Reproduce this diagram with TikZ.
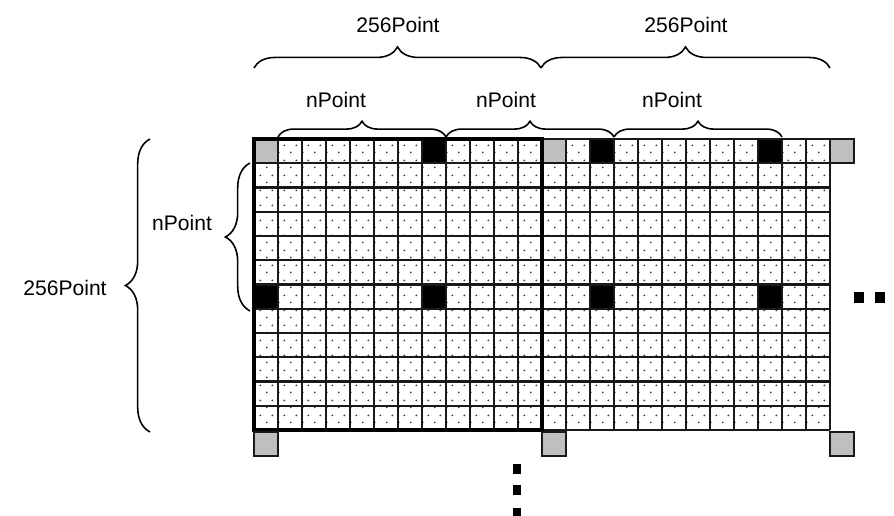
\documentclass[tikz,border=0pt]{standalone}
\usepackage{fontspec}
\setmainfont{Liberation Sans}
\usetikzlibrary{decorations.pathreplacing, patterns.meta, positioning}

\tikzdeclarepattern{
  name=celldots,
  type=uncolored,
  bottom left={(0pt,0pt)},
  top right={(6.83pt,8.54pt)},
  tile size={(6.83pt,8.54pt)},
  code={
    \fill (1.7pt,2.13pt) circle (0.6pt);
    \fill (5.12pt,6.4pt) circle (0.6pt);
  }
}

\begin{document}
\begin{tikzpicture}[x=0.02cm, y=-0.02cm,
    cellgrid/.style={line width=1.25pt, draw=black!90},
    markcell/.style={fill=black},
    cornercell/.style={fill=gray!50, draw=black!90, line width=1.25pt},
    lbl/.style={font=\fontsize{12}{14}\selectfont, inner sep=0pt},
    curly/.style={decorate, decoration={brace, amplitude=#1}, line width=0.9pt}]
  \useasboundingbox (0,0) rectangle (894,516);

  \fill[white] (254,139) rectangle (830,430);
  \fill[pattern={celldots}, pattern color=black!80] (254,139) rectangle (830,430);
  \foreach \c/\r in {7/0,14/0,21/0,0/6,7/6,14/6,21/6}
    \fill[markcell] (254+\c*24,139+\r*24.25) rectangle ++(24,24.25);
  \foreach \c in {0,12}
    \fill[gray!50] (254+\c*24,139) rectangle ++(24,24.25);
  \foreach \c in {0,...,24}
    \draw[cellgrid] (254+\c*24,139) -- (254+\c*24,430);
  \foreach \r in {0,...,12}
    \draw[cellgrid] (254,139+\r*24.25) -- (830,139+\r*24.25);
  \draw[line width=2.6pt] (254,139) rectangle (542,430);

  \draw[cornercell] (830,139) rectangle ++(24,24.25);
  \foreach \c in {0,12,24}
    \draw[cornercell] (254+\c*24,432) rectangle ++(24,24);

  \fill (854,292) rectangle (864,303);
  \fill (875,292) rectangle (885,303);
  \foreach \y in {464,485,508}
    \fill (513,\y) rectangle (521,\y+10);

  \draw[curly=12pt] (254,68) -- (541,68);
  \draw[curly=12pt] (541,68) -- (830,68);
  \draw[curly=9pt] (278,137) -- (446,137);
  \draw[curly=9pt] (446,137) -- (614,137);
  \draw[curly=9pt] (614,137) -- (782,137);
  \draw[curly=14pt] (150,432) -- (150,139);
  \draw[curly=14pt] (250,311) -- (250,163);

  \node[lbl] (sideA) at (398,25) {256Point};
  \node[lbl] (sideB) at (686,25) {256Point};
  \node[lbl] (stepA) at (336,100) {nPoint};
  \node[lbl] (stepB) at (506,100) {nPoint};
  \node[lbl] (stepC) at (672,100) {nPoint};
  \node[lbl] (sideL) at (65,288) {256Point};
  \node[lbl] (stepL) at (182,223) {nPoint};
\end{tikzpicture}
\end{document}
